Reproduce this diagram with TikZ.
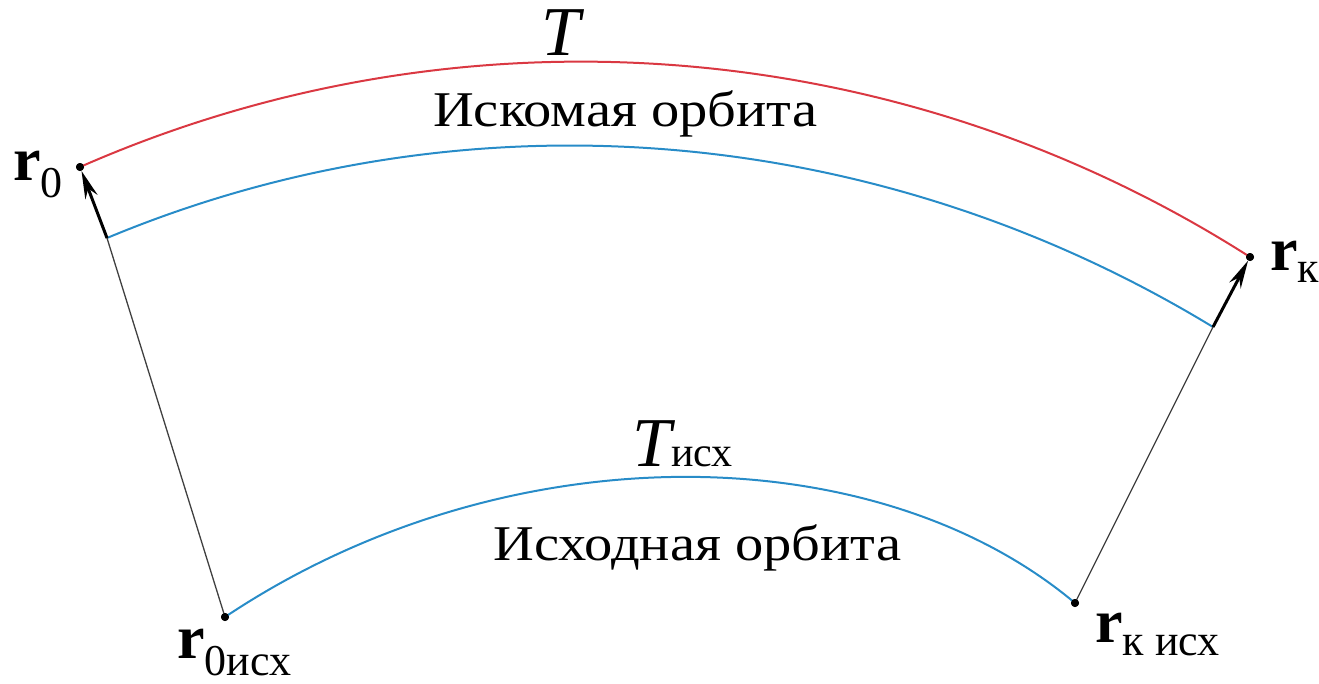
\documentclass[tikz,border=0pt]{standalone}
\usepackage{fontspec}
\setmainfont{Liberation Serif}
\newfontfamily\widefont[FakeStretch=1.13]{Liberation Serif}
\usetikzlibrary{arrows.meta}
\definecolor{orbred}{RGB}{218,56,66}
\definecolor{orbblue}{RGB}{40,140,200}
\newcommand{\vecr}[2]{{\fontsize{62}{62}\selectfont\bfseries r}\raisebox{-#2pt}{\fontsize{44}{44}\selectfont #1}}
\begin{document}
\begin{tikzpicture}[x=1pt,y=-1pt,
  orbit/.style={line width=2pt},
  vecline/.style={line width=1.3pt, draw=black!75},
  bigvec/.style={line width=3pt, -{Stealth[length=28pt,width=13pt]}},
  lbl/.style={inner sep=0pt, anchor=base west},
  caption/.style={inner sep=0pt, anchor=base west, font=\widefont\fontsize{50}{50}\selectfont},
  pt/.style={circle, fill=black, inner sep=0pt, minimum size=8pt}]
\useasboundingbox (0,0) rectangle (1319,683);
\node[pt] (r0) at (80,167) {};
\node[pt] (rk) at (1250,257) {};
\node[pt] (r0i) at (225,617) {};
\node[pt] (rki) at (1075,603) {};
\coordinate (b0) at (107,238);
\coordinate (bk) at (1213,327);
% orbits
\draw[orbit, orbred] (r0.center) .. controls (460.5,-0.5) and (899.6,33.3) .. (rk.center);
\draw[orbit, orbblue] (b0) .. controls (468,87.2) and (878.8,123.6) .. (bk);
\draw[orbit, orbblue] (r0i.center) .. controls (505,430) and (875,435) .. (rki.center);
% vectors
\draw[vecline] (r0i.center) -- (b0);
\draw[vecline] (rki.center) -- (bk);
\draw[bigvec] (b0) -- (r0);
\draw[bigvec] (bk) -- (rk);
\node[pt] at (r0) {};
\node[pt] at (rk) {};
\node[pt] at (r0i) {};
\node[pt] at (rki) {};
% labels
\node[lbl] (lr0) at (13,180) {\vecr{0}{17}};
\node[lbl] (lrk) at (1270,270) {\vecr{к}{12}};
\node[lbl] (lr0i) at (177,658) {\vecr{0исх}{17}};
\node[lbl] (lrki) at (1095,642) {\vecr{к исх}{13}};
\node[lbl] (lT) at (541,55) {\fontsize{70}{70}\selectfont\itshape T};
\node[caption] (ltxt1) at (433,126) {Искомая орбита};
\node[lbl] (lTi) at (632,466) {{\fontsize{70}{70}\selectfont\itshape T}{\fontsize{42}{42}\selectfont исх}};
\node[caption] (ltxt2) at (493,560) {Исходная орбита};
\end{tikzpicture}
\end{document}
